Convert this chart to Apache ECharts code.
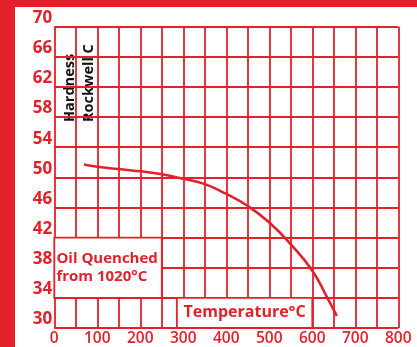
<!DOCTYPE html>
<html><head><meta charset="utf-8">
<script src="https://cdn.jsdelivr.net/npm/echarts@6/dist/echarts.min.js"></script>
<style>html,body{margin:0;padding:0;background:#fff}#c{width:417px;height:347px}</style>
</head><body><div id="c"></div>
<script>
const temperatures = [69, 100, 150, 200, 250, 300, 350, 400, 450, 500, 550, 600, 635, 657];
const hardness = [51.7, 51.4, 51.1, 50.8, 50.4, 49.8, 49.1, 47.8, 46.2, 44.0, 41.1, 37.6, 34.0, 31.6];
const xTicks = [0, 100, 200, 300, 400, 500, 600, 700, 800];
const yTicks = [30, 34, 38, 42, 46, 50, 54, 58, 62, 66, 70];
const yAxisTitle = ['Hardness', 'Rockwell C'];
const noteLabel = 'Oil Quenched\nfrom 1020°C';
const xAxisTitle = 'Temperature°C';

const RED = '#e4212b';
const FONT = 'Open Sans';
const chart = echarts.init(document.getElementById('c'));
chart.setOption({
  backgroundColor: '#fff',
  animation: false,
  grid: {left: 54.3, right: 18.7, top: 26.7, bottom: 18.3},
  xAxis: {
    type: 'value', min: xTicks[0], max: xTicks[xTicks.length - 1], interval: 50,
    axisLine: {show: false}, axisTick: {show: false},
    splitLine: {show: true, lineStyle: {color: RED, width: 1.8}},
    axisLabel: {
      color: RED, fontFamily: FONT, fontWeight: 600, fontSize: 15.5, margin: 3,
      formatter: v => xTicks.includes(v) ? String(v) : ''
    }
  },
  yAxis: {
    type: 'value', min: yTicks[0], max: yTicks[yTicks.length - 1], interval: 4,
    axisLine: {show: false}, axisTick: {show: false},
    splitLine: {show: true, lineStyle: {color: RED, width: 1.8}},
    axisLabel: {
      color: RED, fontFamily: FONT, fontWeight: 'bold', fontSize: 17, margin: 2,
      verticalAlign: 'bottom', lineHeight: 17
    }
  },
  series: [{
    type: 'line', smooth: 0.5, symbol: 'none',
    data: temperatures.map((t, i) => [t, hardness[i]]),
    lineStyle: {color: RED, width: 2.6},
    markArea: {
      silent: true,
      itemStyle: {color: '#fff', borderColor: RED, borderWidth: 1.8},
      data: [
        [{coord: [0, 42], label: {show: true, position: 'insideLeft', formatter: noteLabel,
           color: RED, fontFamily: FONT, fontWeight: 'bold', fontSize: 15, lineHeight: 18.5, offset: [-2, 0]}},
         {coord: [250, 34]}],
        [{coord: [285, 34], label: {show: true, position: 'inside', formatter: xAxisTitle,
           color: RED, fontFamily: FONT, fontWeight: 'bold', fontSize: 16}},
         {coord: [600, 30]}]
      ]
    }
  }],
  graphic: [
    {type: 'rect', left: 0, top: 0, shape: {width: 417, height: 7}, style: {fill: RED}},
    {type: 'rect', left: 0, top: 0, shape: {width: 15, height: 347}, style: {fill: RED}},
    {type: 'text', x: 70, y: 122, rotation: Math.PI / 2,
     style: {text: yAxisTitle[0], fill: '#111', font: 'bold 14.5px "Open Sans"', align: 'left', verticalAlign: 'middle'}},
    {type: 'text', x: 88.5, y: 122, rotation: Math.PI / 2,
     style: {text: yAxisTitle[1], fill: '#111', font: 'bold 14.5px "Open Sans"', align: 'left', verticalAlign: 'middle'}}
  ]
});
</script></body></html>
